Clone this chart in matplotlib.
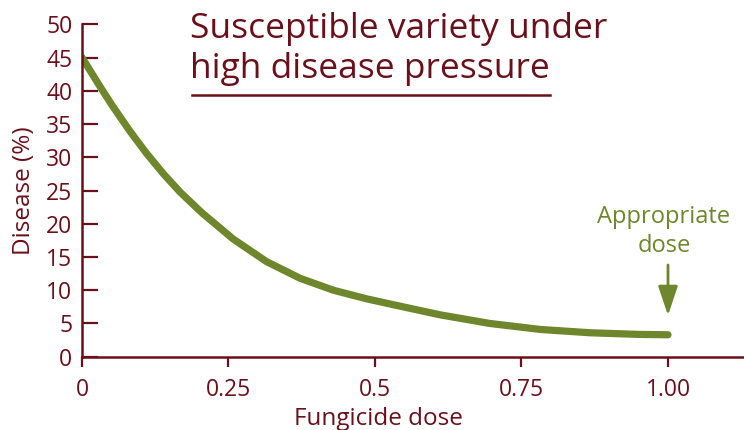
import numpy as np
import matplotlib
matplotlib.use("Agg")
import matplotlib.pyplot as plt

# values
dose = [0.0, 0.031, 0.053, 0.082, 0.110, 0.139, 0.167, 0.204, 0.258, 0.315,
        0.372, 0.429, 0.486, 0.535, 0.611, 0.696, 0.782, 0.867, 0.952, 1.0]
disease = [45.0, 40.6, 37.6, 33.9, 30.6, 27.5, 24.8, 21.7, 17.7, 14.3,
           11.8, 10.0, 8.7, 7.75, 6.3, 5.0, 4.1, 3.6, 3.35, 3.3]
x_ticks = [0, 0.25, 0.5, 0.75, 1.0]
x_tick_labels = ["0", "0.25", "0.5", "0.75", "1.00"]
y_ticks = list(range(0, 51, 5))
title_lines = ["Susceptible variety under", "high disease pressure"]
note_lines = ["Appropriate", "dose"]

RED = "#6b0f1a"
GREEN = "#6e862c"

plt.rcParams["font.family"] = ["Open Sans", "DejaVu Sans"]

W, H = 744, 430
fig = plt.figure(figsize=(W / 100, H / 100), dpi=100)
ax = fig.add_axes([82 / W, 1 - 356.7 / H, 661 / W, 332.4 / H])

ax.plot(dose, disease, color=GREEN, lw=5.2, solid_capstyle="round", solid_joinstyle="round")

ax.set_xlim(0, 1.128)
ax.set_ylim(0, 50)
ax.set_xticks(x_ticks)
ax.set_xticklabels(x_tick_labels)
ax.set_yticks(y_ticks)

for s in ["top", "right"]:
    ax.spines[s].set_visible(False)
for s in ["left", "bottom"]:
    ax.spines[s].set_color(RED)
    ax.spines[s].set_linewidth(1.8)

ax.tick_params(axis="y", direction="in", length=11.5, width=1.6, colors=RED,
               labelsize=16.5, pad=7, labelcolor=RED)
ax.tick_params(axis="x", direction="out", length=7, width=1.6, colors=RED,
               labelsize=16.5, pad=8, labelcolor=RED)

ax.set_xlabel("Fungicide dose", color=RED, fontsize=17.5)
ax.set_ylabel("Disease (%)", color=RED, fontsize=17.5)
ax.xaxis.set_label_coords(0.448, -0.150)
ax.yaxis.set_label_coords(-0.070, 0.5)

# title inside the plot, underlined
fig.text(190 / W, 1 - 38 / H, title_lines[0], color=RED, fontsize=25.5,
         ha="left", va="baseline")
fig.text(190 / W, 1 - 78 / H, title_lines[1], color=RED, fontsize=25.5,
         ha="left", va="baseline")
fig.add_artist(plt.Line2D([192 / W, 550 / W], [1 - 95 / H, 1 - 95 / H],
                          color=RED, lw=1.8))

# appropriate dose annotation
ax.annotate("", xy=(1.0, 6.2), xytext=(1.0, 13.8),
            arrowprops=dict(arrowstyle="-|>,head_length=1.8,head_width=0.6",
                            mutation_scale=10, color=GREEN, lw=2,
                            shrinkA=0, shrinkB=0))
fig.text(664 / W, 1 - 223 / H, note_lines[0], color=GREEN, fontsize=17,
         ha="center", va="baseline")
fig.text(664 / W, 1 - 252 / H, note_lines[1], color=GREEN, fontsize=17,
         ha="center", va="baseline")

fig.savefig("out.png", dpi=100)
